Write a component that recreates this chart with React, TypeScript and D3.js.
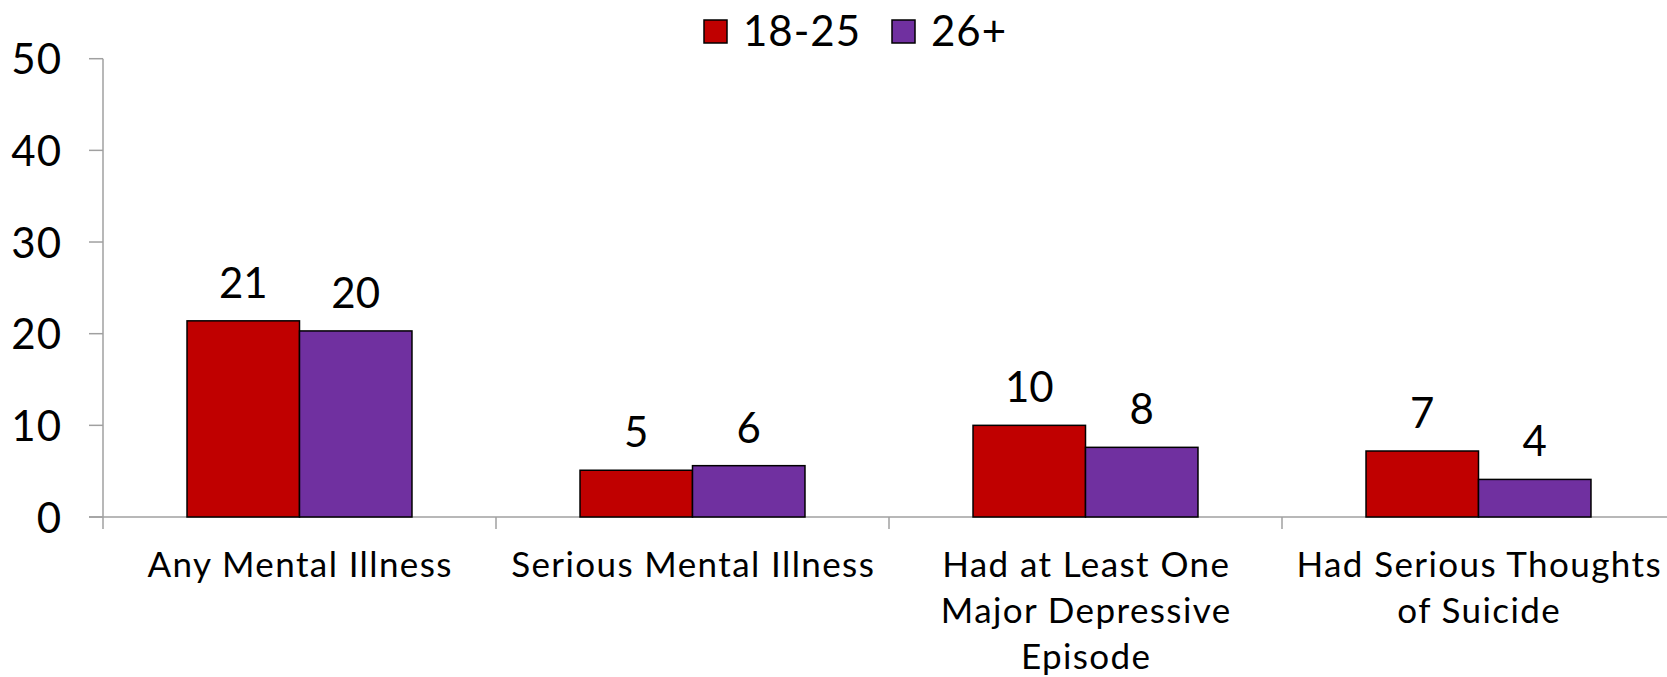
import { useEffect, useRef } from "react"
import * as d3 from "d3"

const categories = [
  "Any Mental Illness",
  "Serious Mental Illness",
  "Had at Least One Major Depressive Episode",
  "Had Serious Thoughts of Suicide"
]
const categoryLines = [
  ["Any Mental Illness"],
  ["Serious Mental Illness"],
  ["Had at Least One", "Major Depressive", "Episode"],
  ["Had Serious Thoughts", "of Suicide"]
]
const seriesNames = ["18-25", "26+"]
const young = [21.4, 5.1, 10.0, 7.2]
const older = [20.3, 5.6, 7.6, 4.1]
const yTicks = [0, 10, 20, 30, 40, 50]

const colors = ["#C00000", "#7030A0"]
const font = "Lato, 'DejaVu Sans', sans-serif"

export default function App() {

  const ref = useRef<SVGSVGElement | null>(null)

  useEffect(() => {

    const svg = d3.select(ref.current)
    svg.selectAll("*").remove()

    const width = 1667
    const height = 677
    const left = 103
    const step = 393

    svg.attr("width", width).attr("height", height)

    const x0 = d3.scaleBand()
      .domain(categories)
      .range([left, left + step * categories.length])
      .padding(0)

    const x1 = d3.scaleBand()
      .domain(seriesNames)
      .range([0, x0.bandwidth()])
      .paddingInner(0)
      .paddingOuter(0.747)

    const y = d3.scaleLinear()
      .domain([0, 50])
      .range([517, 58.7])

    const values = [young, older]

    // y axis
    const axisColor = "#a0a0a0"
    svg.append("line")
      .attr("x1", left).attr("x2", left)
      .attr("y1", y(50)).attr("y2", y(0) + 12)
      .attr("stroke", axisColor).attr("stroke-width", 1.5)

    svg.selectAll(".ytick")
      .data(yTicks)
      .enter()
      .append("line")
      .attr("x1", left - 14).attr("x2", left)
      .attr("y1", d => y(d)).attr("y2", d => y(d))
      .attr("stroke", axisColor).attr("stroke-width", 1.5)

    svg.selectAll(".ylabel")
      .data(yTicks)
      .enter()
      .append("text")
      .attr("x", 62)
      .attr("y", d => y(d) + 15.5)
      .attr("text-anchor", "end")
      .attr("font-family", font)
      .attr("font-size", 42)
      .attr("letter-spacing", 1)
      .attr("fill", "#000")
      .text(d => d)

    // x axis
    svg.append("line")
      .attr("x1", left - 14).attr("x2", left + step * categories.length)
      .attr("y1", y(0)).attr("y2", y(0))
      .attr("stroke", axisColor).attr("stroke-width", 1.5)

    svg.selectAll(".xtick")
      .data(categories)
      .enter()
      .append("line")
      .attr("x1", d => x0(d)! + step).attr("x2", d => x0(d)! + step)
      .attr("y1", y(0)).attr("y2", y(0) + 12)
      .attr("stroke", axisColor).attr("stroke-width", 1.5)

    // bars
    const groups = svg.selectAll(".group")
      .data(categories)
      .enter()
      .append("g")
      .attr("transform", d => `translate(${x0(d)},0)`)

    seriesNames.forEach((s, si) => {
      groups.append("rect")
        .attr("x", x1(s)!)
        .attr("y", (_, i) => y(values[si][i]))
        .attr("width", x1.bandwidth())
        .attr("height", (_, i) => y(0) - y(values[si][i]))
        .attr("fill", colors[si])
        .attr("stroke", "#000")
        .attr("stroke-width", 1.5)

      groups.append("text")
        .attr("x", x1(s)! + x1.bandwidth() / 2)
        .attr("y", (_, i) => y(values[si][i]) - 23)
        .attr("text-anchor", "middle")
        .attr("font-family", font)
        .attr("font-size", 42)
        .attr("fill", "#000")
        .text((_, i) => d3.format(".0f")(values[si][i]))
    })

    // category labels
    groups.each(function (_, i) {
      const g = d3.select(this)
      categoryLines[i].forEach((line, li) => {
        g.append("text")
          .attr("x", x0.bandwidth() / 2 + 0.7)
          .attr("y", 577 + li * 46)
          .attr("text-anchor", "middle")
          .attr("font-family", font)
          .attr("font-size", 35)
          .attr("letter-spacing", 1.4)
          .attr("fill", "#000")
          .text(line)
      })
    })

    // legend
    const legendX = [704, 892]
    seriesNames.forEach((s, si) => {
      svg.append("rect")
        .attr("x", legendX[si]).attr("y", 20)
        .attr("width", 23).attr("height", 23)
        .attr("fill", colors[si])
        .attr("stroke", "#000")
        .attr("stroke-width", 1.5)
      svg.append("text")
        .attr("x", legendX[si] + 39)
        .attr("y", 46)
        .attr("font-family", font)
        .attr("font-size", 42)
        .attr("letter-spacing", 1)
        .attr("fill", "#000")
        .text(s)
    })

  }, [])

  return (
    <div style={{ position: "absolute", left: 0, top: 0 }}>
      <svg ref={ref} style={{ display: "block", background: "#fff" }} />
    </div>
  )
}
